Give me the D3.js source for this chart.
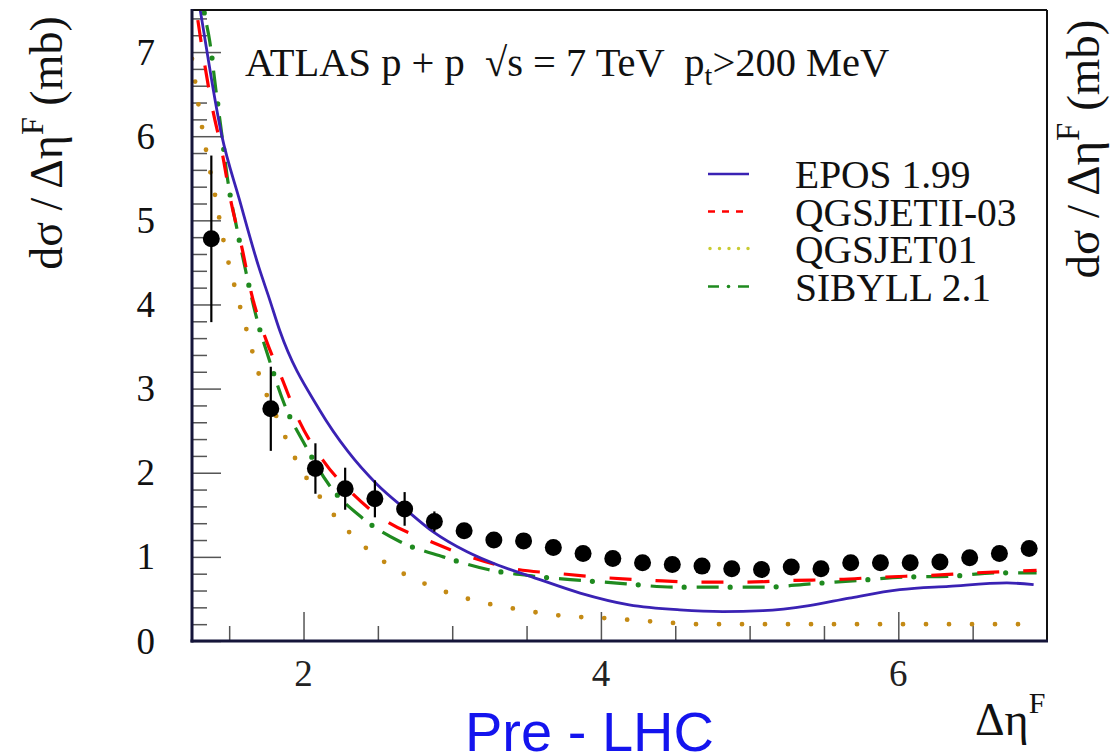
<!DOCTYPE html>
<html><head><meta charset="utf-8">
<script src="https://cdn.jsdelivr.net/npm/d3@7"></script>
<style>body{margin:0;background:#fff} text{white-space:pre}</style>
</head><body><svg id="c" width="1112" height="756"></svg>
<script>
// ---- data ----
const dataX   = [1.38, 1.78, 2.08, 2.28, 2.48, 2.68, 2.88, 3.08, 3.28, 3.48, 3.68, 3.88, 4.08, 4.28, 4.48, 4.68, 4.88, 5.08, 5.28, 5.48, 5.68, 5.88, 6.08, 6.28, 6.48, 6.68, 6.88];
const dataY   = [4.78, 2.76, 2.05, 1.81, 1.69, 1.57, 1.42, 1.31, 1.20, 1.19, 1.11, 1.04, 0.98, 0.93, 0.91, 0.89, 0.86, 0.85, 0.88, 0.86, 0.93, 0.93, 0.93, 0.94, 0.99, 1.04, 1.10];
const dataErr = [0.99, 0.50, 0.30, 0.25, 0.22, 0.20, 0.12, 0.08, 0.06, 0.06, 0.06, 0.05, 0.05, 0.05, 0.05, 0.05, 0.05, 0.05, 0.05, 0.05, 0.05, 0.05, 0.05, 0.05, 0.05, 0.05, 0.05];

const eposX = [1.25, 1.31, 1.45, 1.57, 1.70, 1.77, 1.84, 2.11, 2.30, 2.49, 2.69, 2.87, 3.10, 3.31, 3.54, 3.86, 4.19, 4.53, 4.82, 5.09, 5.40, 5.67, 6.01, 6.34, 6.73, 6.91];
const eposY = [8.10, 7.45, 6.01, 5.24, 4.44, 4.07, 3.69, 2.74, 2.25, 1.87, 1.56, 1.30, 1.06, 0.90, 0.76, 0.57, 0.43, 0.37, 0.35, 0.36, 0.42, 0.51, 0.61, 0.65, 0.69, 0.67];

const qgs2X = [1.25, 1.28, 1.32, 1.39, 1.45, 1.51, 1.59, 1.65, 1.75, 1.85, 1.97, 2.13, 2.33, 2.56, 2.83, 3.12, 3.41, 3.73, 4.05, 4.35, 4.66, 4.98, 5.28, 5.58, 5.90, 6.21, 6.52, 6.93];
const qgs2Y = [7.85, 7.49, 7.02, 6.31, 5.83, 5.24, 4.64, 4.13, 3.57, 3.14, 2.62, 2.15, 1.75, 1.42, 1.20, 1.00, 0.86, 0.80, 0.75, 0.72, 0.70, 0.70, 0.72, 0.73, 0.76, 0.78, 0.81, 0.84];

const qgs1X = [1.25, 1.293, 1.345, 1.405, 1.462, 1.536, 1.618, 1.70, 1.82, 1.95, 2.12, 2.32, 2.56, 2.83, 3.13, 3.43, 3.74, 4.05, 4.36, 4.67, 5.00, 5.50, 6.00, 6.50, 6.93];
const qgs1Y = [6.92, 6.38, 5.83, 5.30, 4.76, 4.22, 3.69, 3.17, 2.66, 2.15, 1.69, 1.27, 0.92, 0.67, 0.49, 0.38, 0.30, 0.27, 0.23, 0.20, 0.20, 0.20, 0.20, 0.20, 0.20];

const sibX = [1.25, 1.33, 1.37, 1.41, 1.45, 1.49, 1.55, 1.61, 1.68, 1.77, 1.87, 2.01, 2.17, 2.39, 2.65, 2.94, 3.24, 3.55, 3.87, 4.17, 4.48, 4.79, 5.10, 5.41, 5.73, 6.03, 6.35, 6.66, 6.93];
const sibY = [8.40, 7.49, 7.12, 6.56, 6.03, 5.48, 4.92, 4.41, 3.87, 3.34, 2.82, 2.33, 1.86, 1.47, 1.18, 1.00, 0.85, 0.77, 0.72, 0.68, 0.64, 0.64, 0.64, 0.68, 0.72, 0.76, 0.77, 0.81, 0.81];

const xMajorTicks = [2, 4, 6];
const xMinorTicks = [1.5, 2.5, 3, 3.5, 4.5, 5, 5.5, 6.5];
const yMajorTicks = [0, 1, 2, 3, 4, 5, 6, 7];
const legendLabels = ["EPOS 1.99", "QGSJETII-03", "QGSJET01", "SIBYLL 2.1"];

// ---- layout ----
const L = 192, R = 1047, T = 10, B = 641;
const serif = "'Liberation Serif','Times New Roman',serif";
const svg = d3.select("#c");
const x = d3.scaleLinear().domain([1.25, 7.0]).range([L, R]);
const y = d3.scaleLinear().domain([0, 7.5]).range([B, T]);

svg.append("defs").append("clipPath").attr("id", "clip")
  .append("rect").attr("x", L).attr("y", T).attr("width", R - L).attr("height", B - T);

// ticks (drawn with d3 axes, inside the frame)
const yMinor = d3.range(0, 7.5, 0.2).filter(v => Math.abs(v - Math.round(v)) > 1e-6);
const gy = svg.append("g").attr("transform", `translate(${L},0)`);
gy.call(d3.axisRight(y).tickValues(yMinor).tickSize(15).tickFormat(""));
gy.append("g").call(d3.axisRight(y).tickValues(yMajorTicks).tickSize(29).tickFormat(""));
gy.selectAll(".domain").remove();
gy.selectAll("line").attr("stroke", "#555").attr("stroke-width", 1.5);

const gx = svg.append("g").attr("transform", `translate(0,${B})`);
gx.call(d3.axisTop(x).tickValues(xMinorTicks).tickSize(15).tickFormat(""));
gx.append("g").call(d3.axisTop(x).tickValues(xMajorTicks).tickSize(29).tickFormat(""));
gx.selectAll(".domain").remove();
gx.selectAll("line").attr("stroke", "#555").attr("stroke-width", 1.5);

// tick labels
svg.append("g").selectAll("text").data(yMajorTicks).join("text")
  .attr("x", 155).attr("y", d => y(d)).attr("dy", "0.34em")
  .attr("text-anchor", "end").attr("font-family", serif).attr("font-size", 37)
  .attr("fill", "#111").text(d => d);
svg.append("g").selectAll("text").data(xMajorTicks).join("text")
  .attr("x", d => x(d)).attr("y", 686)
  .attr("text-anchor", "middle").attr("font-family", serif).attr("font-size", 37)
  .attr("fill", "#222").text(d => d);

// curves
const plot = svg.append("g").attr("clip-path", "url(#clip)");
const line = d3.line().x(d => x(d[0])).y(d => y(d[1])).curve(d3.curveMonotoneX);
const zipXY = (a, b) => a.map((v, i) => [v, b[i]]);

plot.append("path").attr("d", line(zipXY(qgs1X, qgs1Y)))
  .attr("fill", "none").attr("stroke", "#c48a14").attr("stroke-width", 4.8)
  .attr("stroke-linecap", "round").attr("stroke-dasharray", "0 23");

const sibPath = line(zipXY(sibX, sibY));
plot.append("path").attr("d", sibPath)
  .attr("fill", "none").attr("stroke", "#1f8a1f").attr("stroke-width", 3.2)
  .attr("stroke-dasharray", "22 24");
plot.append("path").attr("d", sibPath)
  .attr("fill", "none").attr("stroke", "#1f8a1f").attr("stroke-width", 5.2)
  .attr("stroke-linecap", "round").attr("stroke-dasharray", "0 46").attr("stroke-dashoffset", 12.5);

plot.append("path").attr("d", line(zipXY(qgs2X, qgs2Y)))
  .attr("fill", "none").attr("stroke", "#ff0000").attr("stroke-width", 3.2)
  .attr("stroke-dasharray", "22 24").attr("stroke-dashoffset", 6);

plot.append("path").attr("d", line(zipXY(eposX, eposY)))
  .attr("fill", "none").attr("stroke", "#3a22b4").attr("stroke-width", 2.8);

// data points with errors
const pts = svg.append("g");
pts.selectAll("line").data(dataX).join("line")
  .attr("x1", d => x(d)).attr("x2", d => x(d))
  .attr("y1", (d, i) => y(dataY[i] + dataErr[i])).attr("y2", (d, i) => y(dataY[i] - dataErr[i]))
  .attr("stroke", "#000").attr("stroke-width", 2.2);
pts.selectAll("circle").data(dataX).join("circle")
  .attr("cx", d => x(d)).attr("cy", (d, i) => y(dataY[i])).attr("r", 8.5).attr("fill", "#000");

// frame
svg.append("line").attr("x1", L).attr("x2", R).attr("y1", T).attr("y2", T).attr("stroke", "#111").attr("stroke-width", 2);
svg.append("line").attr("x1", R).attr("x2", R).attr("y1", T).attr("y2", B).attr("stroke", "#111").attr("stroke-width", 2);
svg.append("line").attr("x1", L).attr("x2", L).attr("y1", T - 1).attr("y2", B + 1.5).attr("stroke", "#15153a").attr("stroke-width", 3);
svg.append("line").attr("x1", L - 1.5).attr("x2", R + 1).attr("y1", B).attr("y2", B).attr("stroke", "#15153a").attr("stroke-width", 3);

// title
const title = svg.append("text").attr("x", 245).attr("y", 76)
  .attr("font-family", serif).attr("font-size", 40.5).attr("fill", "#111");
title.append("tspan").text("ATLAS p + p  \u221As = 7 TeV  p");
title.append("tspan").attr("font-size", 28).attr("dy", 9).text("t");
title.append("tspan").attr("dy", -9).text(">200 MeV");

// legend
const legY = [174, 211.5, 248.5, 286.5];
const lg = svg.append("g");
legendLabels.forEach((lab, i) => {
  lg.append("text").attr("x", 795).attr("y", legY[i]).attr("dy", "0.36em")
    .attr("font-family", serif).attr("font-size", 39.5).attr("fill", "#111").text(lab);
});
lg.append("line").attr("x1", 708).attr("x2", 749).attr("y1", legY[0]).attr("y2", legY[0])
  .attr("stroke", "#3a22b4").attr("stroke-width", 2.5);
lg.append("line").attr("x1", 708).attr("x2", 749).attr("y1", legY[1]).attr("y2", legY[1])
  .attr("stroke", "#ff0000").attr("stroke-width", 2.5).attr("stroke-dasharray", "7 7");
lg.append("line").attr("x1", 710).attr("x2", 749).attr("y1", legY[2]).attr("y2", legY[2])
  .attr("stroke", "#c9cc33").attr("stroke-width", 3.5).attr("stroke-linecap", "round").attr("stroke-dasharray", "0 9.5");
lg.append("line").attr("x1", 708).attr("x2", 749).attr("y1", legY[3]).attr("y2", legY[3])
  .attr("stroke", "#1f8a1f").attr("stroke-width", 2.5).attr("stroke-dasharray", "11 19 11");
lg.append("circle").attr("cx", 728.5).attr("cy", legY[3]).attr("r", 1.8).attr("fill", "#1f8a1f");

// y labels
function yLabel(xp, yp, fs) {
  const t = svg.append("text").attr("transform", `translate(${xp},${yp}) rotate(-90)`)
    .attr("text-anchor", "middle").attr("font-family", serif).attr("font-size", fs).attr("fill", "#111");
  t.append("tspan").text("d\u03C3 / \u0394\u03B7");
  t.append("tspan").attr("font-size", fs * 0.7).attr("dy", -fs * 0.42).text("F");
  t.append("tspan").attr("dy", fs * 0.42).text(" (mb)");
}
yLabel(62, 143, 46);
yLabel(1099, 149, 47);

// x label
const xl = svg.append("text").attr("x", 975).attr("y", 735)
  .attr("font-family", serif).attr("font-size", 46).attr("fill", "#111");
xl.append("tspan").text("\u0394\u03B7");
xl.append("tspan").attr("font-size", 30).attr("dy", -22).text("F");

// caption
svg.append("text").attr("x", 465).attr("y", 751)
  .attr("font-family", "'Liberation Sans',Arial,sans-serif").attr("font-size", 56)
  .attr("fill", "#1414ee").text("Pre - LHC");
</script></body></html>
